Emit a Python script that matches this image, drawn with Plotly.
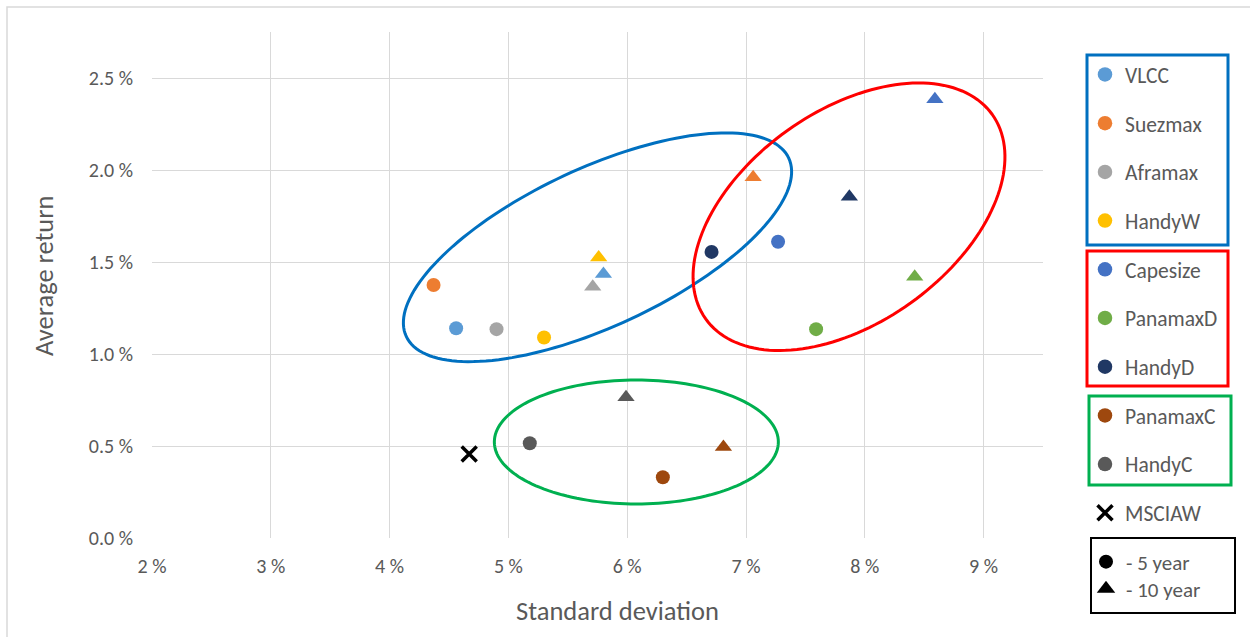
import math
import plotly.graph_objects as go

# ---- data -------------------------------------------------------------
series = ["VLCC", "Suezmax", "Aframax", "HandyW",
          "Capesize", "PanamaxD", "HandyD",
          "PanamaxC", "HandyC"]
colors = ["#5B9BD5", "#ED7D31", "#A5A5A5", "#FFC000",
          "#4472C4", "#70AD47", "#203864",
          "#9E480E", "#595959"]

# standard deviation (%) and average return (%) over 5 and 10 years
sd_5y = [4.56, 4.37, 4.90, 5.30, 7.27, 7.59, 6.71, 6.30, 5.18]
ret_5y = [1.14, 1.375, 1.135, 1.09, 1.61, 1.135, 1.555, 0.33, 0.515]
sd_10y = [5.80, 7.06, 5.71, 5.76, 8.59, 8.42, 7.87, 6.81, 5.99]
ret_10y = [1.435, 1.96, 1.365, 1.525, 2.385, 1.42, 1.855, 0.495, 0.765]

index_name = "MSCIAW"
index_sd = [4.67]
index_ret = [0.457]

x_ticks = [2, 3, 4, 5, 6, 7, 8, 9]
x_labels = ["2 %", "3 %", "4 %", "5 %", "6 %", "7 %", "8 %", "9 %"]
y_ticks = [0.0, 0.5, 1.0, 1.5, 2.0, 2.5]
y_labels = ["0.0 %", "0.5 %", "1.0 %", "1.5 %", "2.0 %", "2.5 %"]
x_range = [2, 9.5]
y_range = [0, 2.75]

# ---- layout geometry ---------------------------------------------------
W, H = 1250, 637
M = dict(l=152, r=207, t=32, b=99)
plot_w = W - M["l"] - M["r"]
plot_h = H - M["t"] - M["b"]
px_per_x = plot_w / (x_range[1] - x_range[0])
px_per_y = plot_h / (y_range[1] - y_range[0])

FONT = "Carlito, Lato, sans-serif"
TEXT = "#595959"
GRID = "#D9D9D9"


def fx(px):
    """pixel column -> paper x"""
    return (px - M["l"]) / plot_w


def fy(py):
    """pixel row -> paper y"""
    return (H - M["b"] - py) / plot_h


def ellipse_path(cx, cy, a_px, b_px, angle_deg, n=160):
    """Rotated ellipse centred on a data point, radii given in screen pixels."""
    t = math.radians(angle_deg)
    pts = []
    for i in range(n):
        u = 2 * math.pi * i / n
        dx = a_px * math.cos(u) * math.cos(t) - b_px * math.sin(u) * math.sin(t)
        dy = a_px * math.cos(u) * math.sin(t) + b_px * math.sin(u) * math.cos(t)
        pts.append((cx + dx / px_per_x, cy + dy / px_per_y))
    return "M " + " L ".join(f"{x:.5f},{y:.5f}" for x, y in pts) + " Z"


fig = go.Figure()

for name, c, x5, y5, x10, y10 in zip(series, colors, sd_5y, ret_5y, sd_10y, ret_10y):
    fig.add_trace(go.Scatter(
        x=[x5, x10], y=[y5, y10], mode="markers", name=name,
        legendgroup=name, legend="legend",
        marker=dict(color=c, size=[14, 15], symbol=["circle", "triangle-up"],
                    opacity=1, line=dict(width=0)),
    ))

fig.add_trace(go.Scatter(
    x=index_sd, y=index_ret, mode="markers", name=index_name,
    legendgroup=index_name, legend="legend",
    marker=dict(symbol="x-thin", size=15, color="black", opacity=1,
                line=dict(width=3.5, color="black")),
))

# horizon key
fig.add_trace(go.Scatter(
    x=[None], y=[None], mode="markers", name="- 5 year", legend="legend2",
    marker=dict(symbol="circle", size=14, color="black", opacity=1,
                line=dict(width=0)),
))
fig.add_trace(go.Scatter(
    x=[None], y=[None], mode="markers", name="- 10 year", legend="legend3",
    marker=dict(symbol="triangle-up", size=16, color="black", opacity=1,
                line=dict(width=0)),
))

shapes = []
# group ellipses: tankers, dry bulk, containers
for cx, cy, a, b, ang, col in [
    (5.75, 1.580, 211, 79, 25.0, "#0070C0"),
    (7.867, 1.746, 176, 106, 35.5, "#FF0000"),
    (6.077, 0.522, 142, 62, 0.0, "#00B050"),
]:
    shapes.append(dict(type="path", xref="x", yref="y",
                       path=ellipse_path(cx, cy, a, b, ang),
                       line=dict(color=col, width=3), layer="above"))

# frames around legend groups
for x0, y0, x1, y1, col, w in [
    (1087, 55, 1228, 245, "#0070C0", 3),
    (1087, 251, 1228, 386, "#FF0000", 3),
    (1089, 396, 1231, 485, "#00B050", 3),
    (1091, 538, 1235, 613, "black", 2),
]:
    shapes.append(dict(type="rect", xref="paper", yref="paper",
                       x0=fx(x0), x1=fx(x1), y0=fy(y1), y1=fy(y0),
                       line=dict(color=col, width=w)))

# chart border
shapes.append(dict(type="rect", xref="paper", yref="paper",
                   x0=fx(7), x1=fx(1265), y0=fy(650), y1=fy(7),
                   line=dict(color=GRID, width=1.5)))

annotations = [
    dict(text="Standard deviation", xref="paper", yref="paper",
         x=fx(617), y=fy(611), xanchor="center", yanchor="middle",
         showarrow=False, font=dict(family=FONT, size=26.5, color=TEXT)),
    dict(text="Average return", xref="paper", yref="paper",
         x=fx(44), y=fy(276), xanchor="center", yanchor="middle",
         textangle=-90, showarrow=False,
         font=dict(family=FONT, size=26.5, color=TEXT)),
]

key_legend = dict(xanchor="left", yanchor="top", bgcolor="rgba(0,0,0,0)",
                  borderwidth=0, itemwidth=30,
                  font=dict(family=FONT, size=21, color=TEXT))

fig.update_layout(
    width=W, height=H, autosize=False,
    margin=M,
    paper_bgcolor="white", plot_bgcolor="white",
    font=dict(family=FONT, color=TEXT, size=20),
    shapes=shapes, annotations=annotations,
    showlegend=True,
    legend=dict(x=fx(1085), y=fy(54), xanchor="left", yanchor="top",
                bgcolor="rgba(0,0,0,0)", borderwidth=0, itemwidth=30,
                tracegroupgap=17.75, font=dict(family=FONT, size=21.5, color=TEXT)),
    legend2=dict(key_legend, x=fx(1086), y=fy(541.5)),
    legend3=dict(key_legend, x=fx(1086), y=fy(568.5)),
    xaxis=dict(range=x_range, tickmode="array", tickvals=x_ticks, ticktext=x_labels,
               showgrid=True, gridcolor=GRID, gridwidth=1, zeroline=False,
               showline=False, ticks="", ticklabelstandoff=14,
               tickfont=dict(family=FONT, size=20, color=TEXT), fixedrange=True),
    yaxis=dict(range=y_range, tickmode="array", tickvals=y_ticks, ticktext=y_labels,
               showgrid=True, gridcolor=GRID, gridwidth=1, zeroline=False,
               showline=False, ticks="", ticklabelstandoff=18,
               tickfont=dict(family=FONT, size=20, color=TEXT), fixedrange=True),
)

fig.write_html("out.html")
